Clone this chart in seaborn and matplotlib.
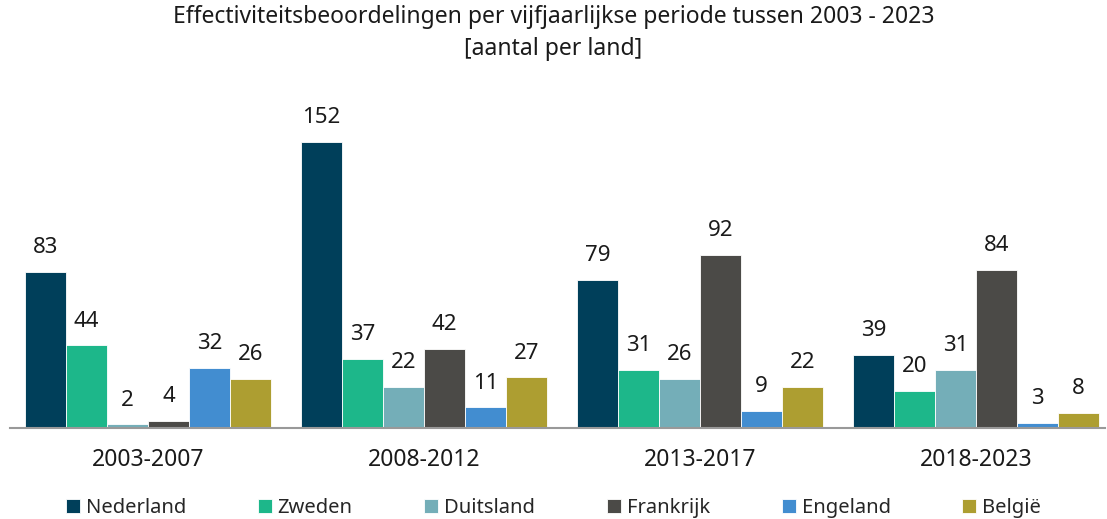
import matplotlib
matplotlib.use("Agg")
import matplotlib.pyplot as plt
import seaborn as sns
import pandas as pd

# data
periods = ['2003-2007', '2008-2012', '2013-2017', '2018-2023']
countries = ['Nederland', 'Zweden', 'Duitsland', 'Frankrijk', 'Engeland', 'België']
nederland = [83, 152, 79, 39]
zweden = [44, 37, 31, 20]
duitsland = [2, 22, 26, 31]
frankrijk = [4, 42, 92, 84]
engeland = [32, 11, 9, 3]
belgie = [26, 27, 22, 8]
colors = ['#003f5a', '#1db78a', '#74aeb8', '#4b4a47', '#428dd0', '#ad9e31']

series = [nederland, zweden, duitsland, frankrijk, engeland, belgie]
rows = []
for country, vals in zip(countries, series):
    for period, v in zip(periods, vals):
        rows.append({'periode': period, 'land': country, 'aantal': v})
df = pd.DataFrame(rows)

sns.set_style('white')
plt.rcParams['font.family'] = ['Noto Sans', 'DejaVu Sans']

fig = plt.figure(figsize=(11.07, 5.19), dpi=100)
ax = fig.add_axes([0.009, 0.175, 0.989, 0.645])

sns.barplot(data=df, x='periode', y='aantal', hue='land', order=periods,
            hue_order=countries, palette=colors, width=0.89, saturation=1,
            edgecolor='white', linewidth=0.6, ax=ax)

# value labels above bars
for container in ax.containers:
    ax.bar_label(container, padding=10, fontsize=16, color='#1a1a1a')

ax.set_ylim(0, 178)
ax.set_xlim(-0.5, 3.467)
ax.set_yticks([])
ax.set_xlabel('')
ax.set_ylabel('')
ax.tick_params(axis='x', length=0, labelsize=16.5, pad=14, labelcolor='#1a1a1a')
for side in ['top', 'right', 'left']:
    ax.spines[side].set_visible(False)
ax.spines['bottom'].set_color('#999999')
ax.spines['bottom'].set_linewidth(1.5)

fig.suptitle('Effectiviteitsbeoordelingen per vijfjaarlijkse periode tussen 2003 - 2023\n[aantal per land]',
             y=0.99, fontsize=16.5, color='#1a1a1a', linespacing=1.45)

handles, labels = ax.get_legend_handles_labels()
ax.legend_.remove()
fig.legend(handles, labels, loc='lower center', ncol=6, bbox_to_anchor=(0.5, -0.033),
           frameon=False, fontsize=14.5, handlelength=0.7, handleheight=0.7,
           handletextpad=0.3, columnspacing=3.55)

fig.savefig('out.png', dpi=100)
